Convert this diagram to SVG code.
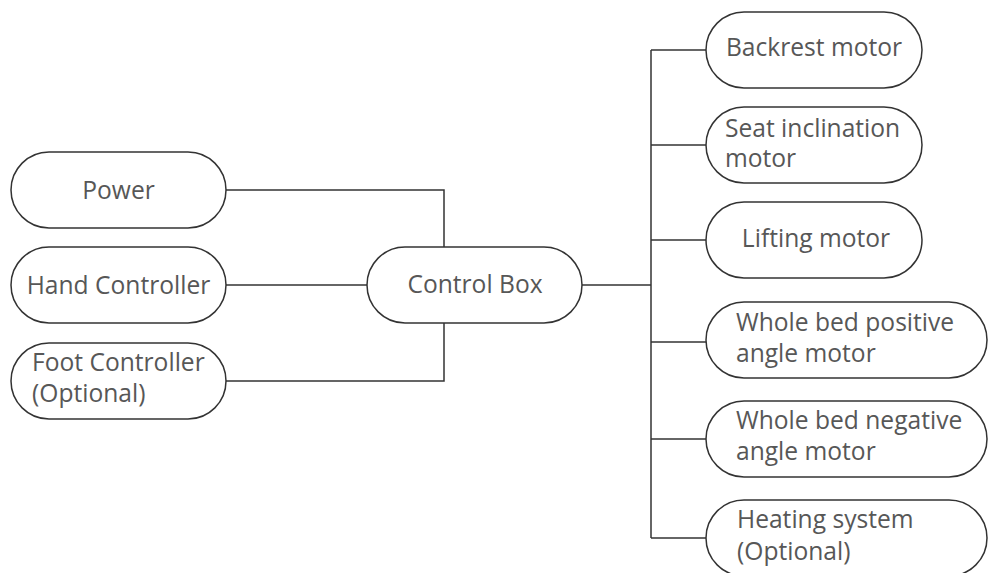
<svg xmlns="http://www.w3.org/2000/svg" width="989" height="573" viewBox="0 0 989 573">
<style>
  .node rect { fill: #ffffff; stroke: #333333; stroke-width: 1.5; }
  .node text { font-family: "Open Sans", "Noto Sans", "DejaVu Sans", sans-serif; font-size: 24.6px; fill: #575757; }
  .c { text-anchor: middle; }
  #connectors path { fill: none; stroke: #333333; stroke-width: 1.5; }
</style>
<rect width="989" height="573" fill="#ffffff"/>
<g id="connectors">
  <path d="M226,190 H444 V247"/>
  <path d="M226,285 H367"/>
  <path d="M226,381 H444 V323"/>
  <path d="M582,285 H651"/>
  <path d="M651,50 V538"/>
  <path d="M651,50 H706"/>
  <path d="M651,145 H706"/>
  <path d="M651,240 H706"/>
  <path d="M651,342 H706"/>
  <path d="M651,439 H706"/>
  <path d="M651,538 H706"/>
</g>
<g id="power" class="node">
  <rect x="11" y="152" width="215" height="76" rx="38"/>
  <text class="c" x="118.5" y="199">Power</text>
</g>
<g id="hand-controller" class="node">
  <rect x="11" y="247" width="215" height="76" rx="38"/>
  <text class="c" x="118.5" y="294">Hand Controller</text>
</g>
<g id="foot-controller" class="node">
  <rect x="11" y="343" width="215" height="76" rx="38"/>
  <text x="32" y="371">Foot Controller</text>
  <text x="32" y="402">(Optional)</text>
</g>
<g id="control-box" class="node">
  <rect x="367" y="247" width="215" height="76" rx="38"/>
  <text class="c" x="475" y="293">Control Box</text>
</g>
<g id="backrest-motor" class="node">
  <rect x="706" y="12" width="216" height="76" rx="38"/>
  <text class="c" x="814" y="56">Backrest motor</text>
</g>
<g id="seat-inclination-motor" class="node">
  <rect x="706" y="107" width="216" height="76" rx="38"/>
  <text x="725" y="137">Seat inclination</text>
  <text x="725" y="167">motor</text>
</g>
<g id="lifting-motor" class="node">
  <rect x="706" y="202" width="216" height="76" rx="38"/>
  <text class="c" x="816" y="247">Lifting motor</text>
</g>
<g id="whole-bed-positive" class="node">
  <rect x="706" y="302" width="281" height="76" rx="38"/>
  <text x="736" y="331">Whole bed positive</text>
  <text x="736" y="362">angle motor</text>
</g>
<g id="whole-bed-negative" class="node">
  <rect x="706" y="401" width="281" height="76" rx="38"/>
  <text x="736" y="429">Whole bed negative</text>
  <text x="736" y="460">angle motor</text>
</g>
<g id="heating-system" class="node">
  <rect x="706" y="500" width="281" height="76" rx="38"/>
  <text x="737" y="528">Heating system</text>
  <text x="737" y="560">(Optional)</text>
</g>
</svg>
